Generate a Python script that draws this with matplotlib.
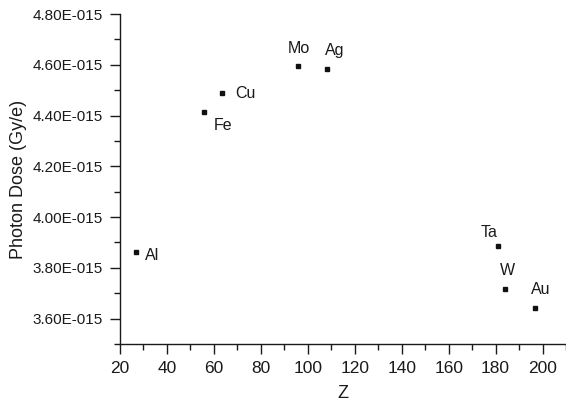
import matplotlib
matplotlib.use("Agg")
import matplotlib.pyplot as plt
from matplotlib.ticker import FuncFormatter, MultipleLocator

plt.rcParams['font.family'] = ['Liberation Sans', 'DejaVu Sans']

elements = ["Al", "Fe", "Cu", "Mo", "Ag", "Ta", "W", "Au"]
z_values = [27, 56, 63.5, 96, 108, 181, 184, 197]
dose = [3.863e-15, 4.415e-15, 4.488e-15, 4.597e-15, 4.583e-15, 3.888e-15, 3.717e-15, 3.641e-15]
# label offsets in pixels (dx, dy) relative to each point, and alignment
label_offsets = [(9, -4), (9, -14), (13, 0), (0, 17), (8, 19), (-9, 13), (3, 18), (5, 19)]
label_ha = ["left", "left", "left", "center", "center", "center", "center", "center"]

fig = plt.figure(figsize=(5.66, 4.04), dpi=100)
ax = fig.add_axes([0.212, 0.1485, 0.788, 0.8168])

ax.plot(z_values, dose, linestyle="none", marker="s", markersize=3.4, color="#111111")

for name, x, y, (dx, dy), ha in zip(elements, z_values, dose, label_offsets, label_ha):
    ax.annotate(name, (x, y), xytext=(dx, dy), textcoords="offset pixels",
                ha=ha, va="center", fontsize=11.5, color="#1a1a1a")

ax.set_xlim(20, 210)
ax.set_ylim(3.5e-15, 4.8e-15)
ax.xaxis.set_major_locator(MultipleLocator(20))
ax.xaxis.set_minor_locator(MultipleLocator(10))
ax.yaxis.set_major_locator(MultipleLocator(0.2e-15))
ax.yaxis.set_minor_locator(MultipleLocator(0.1e-15))
ax.yaxis.set_major_formatter(FuncFormatter(lambda v, p: f"{v*1e15:.2f}E-015"))
ax.yaxis.get_offset_text().set_visible(False)
ax.xaxis.get_offset_text().set_visible(False)

for s in ["top", "right"]:
    ax.spines[s].set_visible(False)
for s in ["left", "bottom"]:
    ax.spines[s].set_linewidth(1.0)
    ax.spines[s].set_color("#1a1a1a")

ax.tick_params(which="major", direction="out", length=7, width=1, colors="#1a1a1a")
ax.tick_params(axis="x", which="major", pad=5, labelsize=12.5)
ax.tick_params(axis="y", which="major", pad=5.5, labelsize=11)
ax.tick_params(which="minor", direction="out", length=4, width=1, colors="#1a1a1a")

ax.set_xlabel("Z", fontsize=13, color="#1a1a1a", labelpad=7)
ax.set_ylabel("Photon Dose (Gy/e)", fontsize=13, color="#1a1a1a", labelpad=4)

fig.savefig("out.png", dpi=100)
